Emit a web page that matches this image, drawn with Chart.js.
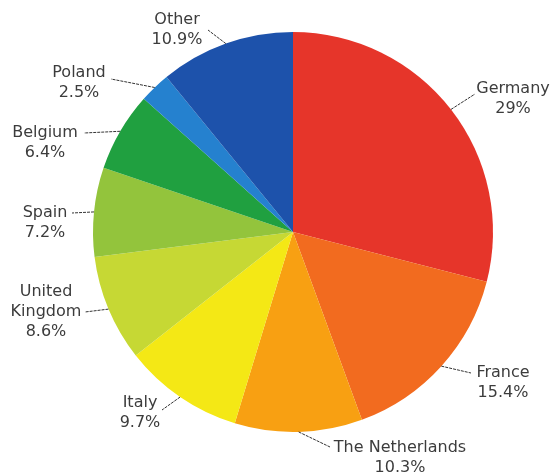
<!DOCTYPE html>
<html>
<head>
<meta charset="utf-8">
<script src="https://cdn.jsdelivr.net/npm/chart.js@4"></script>
<style>
    html, body { margin: 0; padding: 0; background: #fff; }
</style>
</head>
<body>
<canvas id="myChart" width="553" height="476"></canvas>
<script>
// Data
const countries = ["Germany", "France", "The Netherlands", "Italy", "United Kingdom", "Spain", "Belgium", "Poland", "Other"];
const shares = [29, 15.4, 10.3, 9.7, 8.6, 7.2, 6.4, 2.5, 10.9];
const shareLabels = ["29%", "15.4%", "10.3%", "9.7%", "8.6%", "7.2%", "6.4%", "2.5%", "10.9%"];
const sliceColors = ["#e6352a", "#f26b1f", "#f8a012", "#f4e815", "#c6d834", "#93c43c", "#20a040", "#2581cf", "#1d52ab"];

// Label layout: text lines, text centre, end of leader line
const labelLayout = [
    { lines: ["Germany", "29%"], x: 513, y: 89, lx: 475, ly: 94 },
    { lines: ["France", "15.4%"], x: 503, y: 373, lx: 471, ly: 373 },
    { lines: ["The Netherlands", "10.3%"], x: 400, y: 448, lx: 330, ly: 447 },
    { lines: ["Italy", "9.7%"], x: 140, y: 403, lx: 162, ly: 410 },
    { lines: ["United", "Kingdom", "8.6%"], x: 46, y: 292, lx: 85, ly: 312 },
    { lines: ["Spain", "7.2%"], x: 45, y: 213, lx: 72, ly: 213 },
    { lines: ["Belgium", "6.4%"], x: 45, y: 133, lx: 84, ly: 133 },
    { lines: ["Poland", "2.5%"], x: 79, y: 73, lx: 111, ly: 79 },
    { lines: ["Other", "10.9%"], x: 177, y: 20, lx: 208, ly: 30 },
];

// --------------------------- Labels plugin ---------------------------
const pieLabels = {
    id: "pieLabels",
    afterDatasetsDraw(chart) {
        const c = chart.ctx;
        const arcs = chart.getDatasetMeta(0).data;
        c.save();
        arcs.forEach((arc, i) => {
            const p = arc.getProps(["x", "y", "startAngle", "endAngle", "outerRadius"], true);
            const mid = (p.startAngle + p.endAngle) / 2;
            const sx = p.x + Math.cos(mid) * p.outerRadius;
            const sy = p.y + Math.sin(mid) * p.outerRadius;
            const lay = labelLayout[i];

            // Leader line
            c.strokeStyle = "#333";
            c.lineWidth = 1;
            c.setLineDash([3, 1]);
            c.beginPath();
            c.moveTo(sx, sy);
            c.lineTo(lay.lx, lay.ly);
            c.stroke();

            // Text
            c.setLineDash([]);
            c.fillStyle = "#3c3c3c";
            c.font = "16px 'DejaVu Sans'";
            c.textAlign = "center";
            c.textBaseline = "middle";
            const lines = lay.lines.slice(0, -1).concat([shareLabels[i]]);
            lines.forEach((t, k) => {
                c.fillText(t, lay.x, lay.y + k * 20);
            });
        });
        c.restore();
    },
};

// Chart object
const ctx = document.querySelector("#myChart").getContext("2d");
const shareChart = new Chart(ctx, {
    type: "pie",
    data: {
        labels: countries,
        datasets: [{
            data: shares,
            backgroundColor: sliceColors,
            borderWidth: 0,
        }],
    },
    options: {
        responsive: false,
        animation: false,
        layout: {
            padding: { top: 32, bottom: 44, left: 93, right: 60 },
        },
        plugins: {
            legend: { display: false },
            tooltip: { enabled: false },
        },
    },
    plugins: [pieLabels],
});
</script>
</body>
</html>
